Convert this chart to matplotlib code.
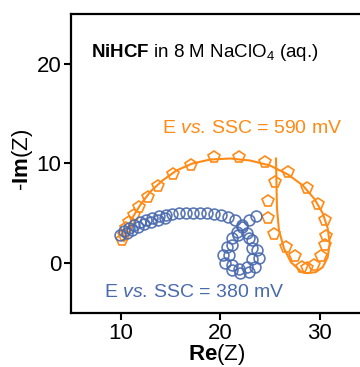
import matplotlib
matplotlib.use("Agg")
import matplotlib.pyplot as plt

plt.rcParams['font.family'] = ['Liberation Sans', 'DejaVu Sans']
plt.rcParams['mathtext.fontset'] = 'custom'
plt.rcParams['mathtext.rm'] = 'Liberation Sans'
plt.rcParams['mathtext.it'] = 'Liberation Sans:italic'
plt.rcParams['mathtext.bf'] = 'Liberation Sans:bold'

blue = '#4A6AAE'
orange = '#FF8A16'

# 380 mV spectrum (circles)
z380_re = [9.9, 10.3, 10.8, 11.3, 11.9, 12.5, 13.1, 13.8, 14.5, 15.2, 15.9, 16.6,
           17.3, 18.0, 18.7, 19.4, 20.1, 20.8, 21.5, 22.2, 22.7, 23.2, 23.7, 23.9,
           23.5, 22.9, 22.0, 21.2, 20.5, 20.3, 20.7, 21.2, 21.7, 22.2, 22.9, 23.6,
           22.9, 23.2, 23.2, 22.7, 21.9, 21.2, 20.9, 21.2, 21.8,
           10.6, 11.1, 11.7, 12.3, 13.0, 13.7, 14.4]
z380_im = [2.8, 3.2, 3.5, 3.8, 4.1, 4.3, 4.5, 4.7, 4.8, 4.9, 5.0, 5.0,
           5.0, 5.0, 5.0, 4.9, 4.8, 4.6, 4.3, 3.8, 3.0, 2.3, 1.3, 0.5,
           -0.4, -0.9, -1.0, -0.7, 0.0, 0.8, 1.6, 2.5, 3.1, 3.6, 4.3, 4.7,
           2.5, 1.5, 0.4, -0.4, -0.6, -0.2, 0.8, 1.8, 2.8,
           3.0, 3.3, 3.6, 3.9, 4.1, 4.3, 4.5]

# 590 mV spectrum (pentagons)
z590_re = [10.1, 10.3, 10.5, 10.8, 11.3, 11.8, 12.7, 13.7, 15.3, 17.1, 19.4, 21.9,
           24.5, 26.8, 28.7, 29.8, 30.5, 30.6, 30.5, 30.1, 29.4, 28.7, 28.2, 27.5,
           26.6, 25.4, 24.8, 24.8, 25.5]
z590_im = [2.3, 2.8, 3.5, 4.1, 4.8, 5.6, 6.6, 7.7, 8.9, 9.8, 10.7, 10.7,
           10.2, 9.1, 7.5, 5.9, 4.3, 2.7, 1.8, 0.7, -0.2, -0.5, -0.4, 0.7,
           1.6, 2.9, 4.5, 6.2, 8.1]

# fitted curve for 590 mV
fit_re = [10.3, 10.6, 11.2, 12.0, 13.0, 14.2, 15.6, 17.2, 19.0, 21.0, 23.0, 25.0,
          26.8, 28.3, 29.5, 30.3, 30.8, 31.0, 30.8, 30.3, 29.6, 28.7, 28.2, 27.1,
          26.4, 25.9, 25.7, 25.65, 25.6]
fit_im = [2.2, 3.2, 4.6, 5.9, 7.2, 8.3, 9.3, 10.0, 10.4, 10.5, 10.3, 9.8,
          8.9, 7.8, 6.4, 5.0, 3.5, 2.0, 0.6, -0.4, -0.9, -1.0, -0.9, 0.1,
          1.5, 3.3, 5.5, 8.0, 10.5]

fig = plt.figure(figsize=(3.6, 3.67), dpi=100)
ax = fig.add_axes([71 / 360, 54 / 367, 298.5 / 360, 299 / 367])

ax.plot(fit_re, fit_im, color=orange, lw=1.5, zorder=2)
ax.plot(z590_re, z590_im, ls='none', marker='p', ms=8.5, mfc='none',
        mec=orange, mew=1.2, zorder=3)
ax.plot(z380_re, z380_im, ls='none', marker='o', ms=7.8, mfc='none',
        mec=blue, mew=1.2, alpha=0.9, zorder=3)

ax.text(7.0, 21.1, r'$\mathbf{NiHCF}$ in 8 M NaClO$_4$ (aq.)', fontsize=13.5,
        va='center', ha='left')
ax.text(14.1, 13.5, r'E $\mathit{vs.}\,$SSC = 590 mV', fontsize=14,
        color=orange, va='center', ha='left')
ax.text(8.3, -2.9, r'E $\mathit{vs.}\,$SSC = 380 mV', fontsize=14,
        color=blue, va='center', ha='left')

ax.set_xlim(5, 35)
ax.set_ylim(-5, 25)
ax.set_xticks([10, 20, 30])
ax.set_yticks([0, 10, 20])
ax.tick_params(labelsize=16, width=1.5, length=5, pad=2)
for s in ax.spines.values():
    s.set_linewidth(1.6)
ax.spines['right'].set_visible(False)

ax.set_xlabel(r'$\mathbf{Re}$(Z)', fontsize=16, va='top')
ax.set_ylabel(r'-$\mathbf{Im}$(Z)', fontsize=16, va='center')
ax.xaxis.set_label_coords(0.489, -0.097)
ax.yaxis.set_label_coords(-0.162, 0.512)

fig.savefig('out.png', dpi=100)
